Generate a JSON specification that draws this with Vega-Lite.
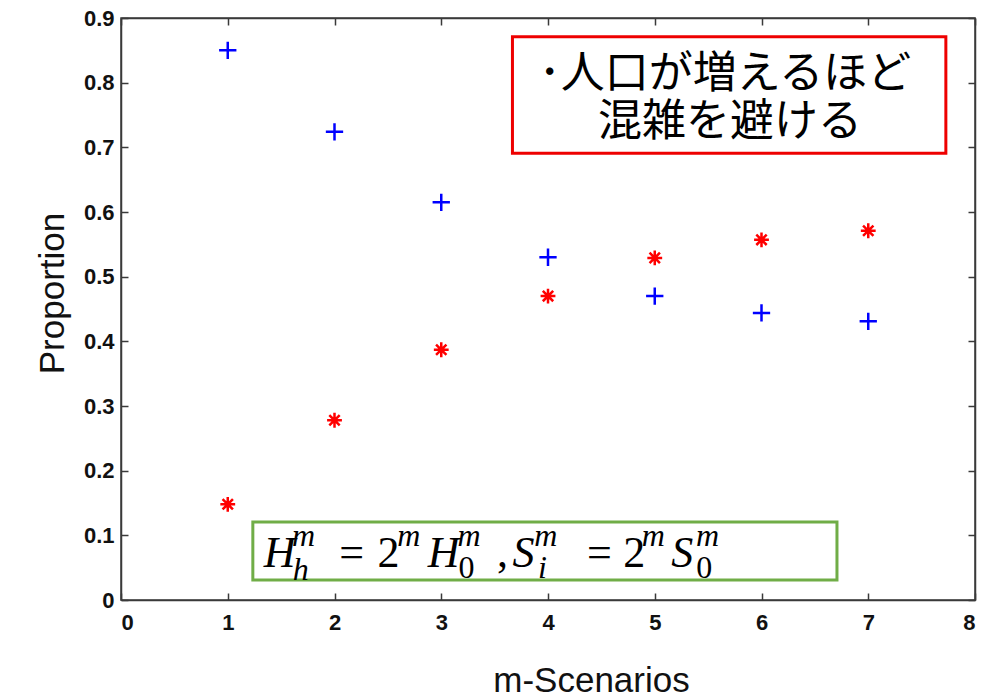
{
  "$schema": "https://vega.github.io/schema/vega-lite/v6.json",
  "width": 854,
  "height": 582,
  "autosize": {"type": "none"},
  "padding": {"left": 121, "top": 18, "right": 11, "bottom": 100},
  "background": "white",
  "config": {
    "view": {"stroke": "#3a3a3a", "strokeWidth": 1.5},
    "axis": {
      "domainColor": "#3a3a3a", "domainWidth": 1.5,
      "tickColor": "#3a3a3a", "tickSize": -7, "tickWidth": 1.5,
      "labelFont": "Liberation Sans", "labelFontSize": 22, "labelColor": "#111111", "labelFontWeight": "bold",
      "titleFont": "Liberation Sans", "titleFontSize": 35, "titleColor": "#111111", "titleFontWeight": "normal",
      "grid": false
    }
  },
  "datasets": {
    "pts": [
      {"m": 1, "p": 0.850, "series": "Avoid"},
      {"m": 2, "p": 0.724, "series": "Avoid"},
      {"m": 3, "p": 0.615, "series": "Avoid"},
      {"m": 4, "p": 0.530, "series": "Avoid"},
      {"m": 5, "p": 0.470, "series": "Avoid"},
      {"m": 6, "p": 0.444, "series": "Avoid"},
      {"m": 7, "p": 0.431, "series": "Avoid"},
      {"m": 1, "p": 0.148, "series": "Crowd"},
      {"m": 2, "p": 0.278, "series": "Crowd"},
      {"m": 3, "p": 0.387, "series": "Crowd"},
      {"m": 4, "p": 0.470, "series": "Crowd"},
      {"m": 5, "p": 0.529, "series": "Crowd"},
      {"m": 6, "p": 0.557, "series": "Crowd"},
      {"m": 7, "p": 0.571, "series": "Crowd"}
    ],
    "formula": [
      {"t": "H", "x": 1.487, "y": 0.051, "k": "bi"},
      {"t": "m", "x": 1.71, "y": 0.084, "k": "si"},
      {"t": "h", "x": 1.684, "y": 0.031, "k": "si"},
      {"t": "=", "x": 2.161, "y": 0.051, "k": "bu"},
      {"t": "2", "x": 2.507, "y": 0.051, "k": "bu"},
      {"t": "m", "x": 2.695, "y": 0.084, "k": "si"},
      {"t": "H", "x": 3.022, "y": 0.051, "k": "bi"},
      {"t": "m", "x": 3.26, "y": 0.084, "k": "si"},
      {"t": "0", "x": 3.237, "y": 0.034, "k": "su"},
      {"t": ",", "x": 3.573, "y": 0.051, "k": "bu"},
      {"t": "S", "x": 3.770, "y": 0.051, "k": "bi"},
      {"t": "m", "x": 3.98, "y": 0.084, "k": "si"},
      {"t": "i", "x": 3.948, "y": 0.034, "k": "si"},
      {"t": "=", "x": 4.481, "y": 0.051, "k": "bu"},
      {"t": "2", "x": 4.808, "y": 0.051, "k": "bu"},
      {"t": "m", "x": 4.987, "y": 0.084, "k": "si"},
      {"t": "S", "x": 5.257, "y": 0.051, "k": "bi"},
      {"t": "m", "x": 5.495, "y": 0.084, "k": "si"},
      {"t": "0", "x": 5.463, "y": 0.034, "k": "su"}
    ]
  },
  "layer": [
    {
      "data": {"name": "pts"},
      "mark": {"type": "point", "filled": false, "strokeWidth": 2.5, "opacity": 1},
      "encoding": {
        "x": {"field": "m", "type": "quantitative", "scale": {"domain": [0, 8], "nice": false, "zero": false},
              "axis": {"orient": "bottom", "values": [0,1,2,3,4,5,6,7,8], "format": "d", "title": "m-Scenarios", "labelPadding": 19, "titlePadding": 30, "titleX": 470}},
        "y": {"field": "p", "type": "quantitative", "scale": {"domain": [0, 0.9], "nice": false},
              "axis": {"orient": "left", "values": [0,0.1,0.2,0.3,0.4,0.5,0.6,0.7,0.8,0.9], "labelExpr": "datum.value === 0 ? '0' : format(datum.value, '.1f')", "title": "Proportion", "labelPadding": 14, "titlePadding": 13, "titleY": 275}},
        "shape": {"field": "series", "type": "nominal", "legend": null,
                  "scale": {"domain": ["Avoid", "Crowd"], "range": ["M-1,0L1,0M0,-1L0,1", "M-1,0L1,0M0,-1L0,1M-0.7,-0.7L0.7,0.7M-0.7,0.7L0.7,-0.7"]}},
        "color": {"field": "series", "type": "nominal", "legend": null,
                  "scale": {"domain": ["Avoid", "Crowd"], "range": ["#0000ff", "#ff0000"]}},
        "size": {"field": "series", "type": "nominal", "legend": null,
                 "scale": {"domain": ["Avoid", "Crowd"], "range": [300, 220]}}
      }
    },
    {
      "data": {"name": "pts"},
      "mark": {"type": "point", "opacity": 0},
      "encoding": {
        "x": {"field": "m", "type": "quantitative", "axis": {"orient": "top", "values": [0,1,2,3,4,5,6,7,8], "labels": false, "title": null}},
        "y": {"field": "p", "type": "quantitative", "axis": {"orient": "right", "values": [0,0.1,0.2,0.3,0.4,0.5,0.6,0.7,0.8,0.9], "labels": false, "title": null}}
      }
    },
    {
      "data": {"values": [{"x1": 3.667, "x2": 7.727, "y1": 0.871, "y2": 0.691}]},
      "mark": {"type": "rect", "fill": "white", "stroke": "#ee0000", "strokeWidth": 3},
      "encoding": {
        "x": {"field": "x1", "type": "quantitative", "axis": null}, "x2": {"field": "x2"},
        "y": {"field": "y1", "type": "quantitative", "axis": null}, "y2": {"field": "y2"}
      }
    },
    {
      "data": {"values": [{"t": "･人口が増えるほど", "x": 5.658, "y": 0.812}, {"t": "混雑を避ける", "x": 5.705, "y": 0.738}]},
      "mark": {"type": "text", "font": "Noto Sans CJK JP", "fontSize": 44, "color": "black", "align": "center", "baseline": "middle"},
      "encoding": {
        "x": {"field": "x", "type": "quantitative", "axis": null},
        "y": {"field": "y", "type": "quantitative", "axis": null},
        "text": {"field": "t"}
      }
    },
    {
      "data": {"values": [{"x1": 1.235, "x2": 6.707, "y1": 0.1206, "y2": 0.031}]},
      "mark": {"type": "rect", "fill": "white", "stroke": "#70ad47", "strokeWidth": 3},
      "encoding": {
        "x": {"field": "x1", "type": "quantitative", "axis": null}, "x2": {"field": "x2"},
        "y": {"field": "y1", "type": "quantitative", "axis": null}, "y2": {"field": "y2"}
      }
    },
    {
      "data": {"name": "formula"},
      "transform": [{"filter": "datum.k === 'bi'"}],
      "mark": {"type": "text", "font": "Liberation Serif", "fontStyle": "italic", "fontSize": 44, "color": "black", "align": "center", "baseline": "alphabetic"},
      "encoding": {"x": {"field": "x", "type": "quantitative", "axis": null}, "y": {"field": "y", "type": "quantitative", "axis": null}, "text": {"field": "t"}}
    },
    {
      "data": {"name": "formula"},
      "transform": [{"filter": "datum.k === 'bu'"}],
      "mark": {"type": "text", "font": "Liberation Serif", "fontSize": 44, "color": "black", "align": "center", "baseline": "alphabetic"},
      "encoding": {"x": {"field": "x", "type": "quantitative", "axis": null}, "y": {"field": "y", "type": "quantitative", "axis": null}, "text": {"field": "t"}}
    },
    {
      "data": {"name": "formula"},
      "transform": [{"filter": "datum.k === 'si'"}],
      "mark": {"type": "text", "font": "Liberation Serif", "fontStyle": "italic", "fontSize": 32, "color": "black", "align": "center", "baseline": "alphabetic"},
      "encoding": {"x": {"field": "x", "type": "quantitative", "axis": null}, "y": {"field": "y", "type": "quantitative", "axis": null}, "text": {"field": "t"}}
    },
    {
      "data": {"name": "formula"},
      "transform": [{"filter": "datum.k === 'su'"}],
      "mark": {"type": "text", "font": "Liberation Serif", "fontSize": 32, "color": "black", "align": "center", "baseline": "alphabetic"},
      "encoding": {"x": {"field": "x", "type": "quantitative", "axis": null}, "y": {"field": "y", "type": "quantitative", "axis": null}, "text": {"field": "t"}}
    }
  ],
  "resolve": {"axis": {"x": "independent", "y": "independent"}}
}
